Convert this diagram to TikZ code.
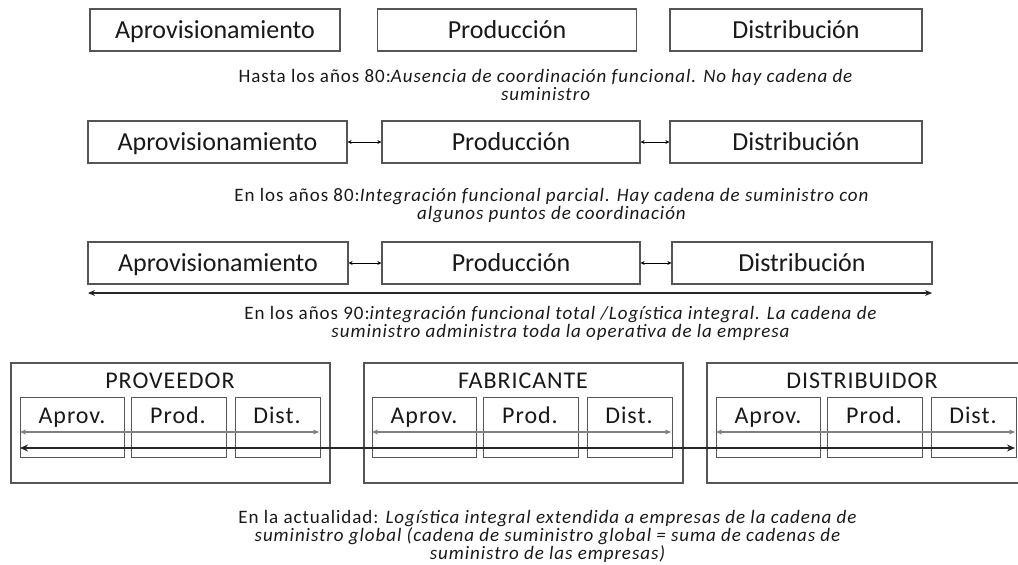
\documentclass[tikz,border=0pt]{standalone}
\usepackage{fontspec}
\setmainfont{Carlito}
\newfontfamily\wide[LetterSpace=5]{Carlito}
\newfontfamily\semiwide[LetterSpace=4]{Carlito}
\usepackage{tikz}
\usetikzlibrary{arrows.meta}
\definecolor{boxgray}{RGB}{85,85,85}
\definecolor{txtgray}{RGB}{25,25,25}
\newcommand*{\epoca}[2]{#1\textit{#2}}
\newcommand*{\tightlines}{\lineskiplimit=-100pt\relax\lineskip=0pt\relax}

\begin{document}
\begin{tikzpicture}[x=1pt, y=-1pt,
    area/.style={draw=boxgray, line width=1.2pt, minimum height=42pt,
      inner sep=0pt, text height=17pt, text depth=0pt,
      font=\fontsize{26}{30}\selectfont, text=txtgray},
    caption/.style={align=center, anchor=north, inner sep=0pt,
      font=\wide\fontsize{19}{18}\selectfont\tightlines, text=txtgray},
    firma/.style={draw=boxgray, line width=1.2pt, inner sep=0pt},
    sub/.style={draw=boxgray, line width=1pt},
    label/.style={inner sep=0pt, text height=15pt, text depth=0pt,
      font=\semiwide\fontsize{24}{26}\selectfont, text=txtgray},
    link/.style={{Stealth[length=4pt,width=4pt]}-{Stealth[length=4pt,width=4pt]}, line width=0.8pt, black}]
  \useasboundingbox (0,0) rectangle (1018,565);

  % hasta los 80
  \node [area, minimum width=250pt] (a1) at (215,30) {Aprovisionamiento};
  \node [area, minimum width=259pt] (p1) at (507,30) {Producción};
  \node [area, minimum width=252pt] (d1) at (796,30) {Distribución};
  \node [caption] (t1) at (546,69)
    {\epoca{Hasta los años 80:}{Ausencia de coordinación funcional. No hay cadena de}\\ \textit{suministro}};

  % años 80
  \node [area, minimum width=259pt] (a2) at (217.5,142) {Aprovisionamiento};
  \node [area, minimum width=258pt] (p2) at (511,142) {Producción};
  \node [area, minimum width=252pt] (d2) at (796,142) {Distribución};
  \draw [link] (a2) -- (p2);
  \draw [link] (p2) -- (d2);
  \node [caption] (t2) at (552,188)
    {\epoca{En los años 80:}{Integración funcional parcial. Hay cadena de suministro con}\\ \textit{algunos puntos de coordinación}};

  % años 90
  \node [area, minimum width=260pt] (a3) at (218,263) {Aprovisionamiento};
  \node [area, minimum width=258pt] (p3) at (511,263) {Producción};
  \node [area, minimum width=260pt] (d3) at (802,263) {Distribución};
  \draw [link] (a3) -- (p3);
  \draw [link] (p3) -- (d3);
  \coordinate (l3) at (88,293);
  \coordinate (r3) at (932,293);
  \draw [line width=2pt, {Stealth[length=7pt,width=6pt]}-{Stealth[length=7pt,width=6pt]}, black!85] (l3) -- (r3);
  \node [caption] (t3) at (561,306)
    {\epoca{En los años 90:}{integración funcional total /Logística integral. La cadena de}\\ \textit{suministro administra toda la operativa de la empresa}};

  % actualidad
  \draw [firma] (11,363) rectangle (330,483);
  \draw [firma] (364,363) rectangle (683,483);
  \draw [firma] (707,363) rectangle (1030,483);
  \node [label] (prov) at (170,380.5) {PROVEEDOR};
  \node [label] (fab) at (523,380.5) {FABRICANTE};
  \node [label] (dist) at (862,380.5) {DISTRIBUIDOR};

  \foreach \n/\x in {prov/20, fab/372, dist/716}
  {
    \draw [sub] (\x,397) rectangle ++(104,60);
    \draw [sub] (\x+111,397) rectangle ++(95,60);
    \draw [sub] (\x+215,397) rectangle ++(85,60);
    \node [label] (\n a) at (\x+52,415.5) {Aprov.};
    \node [label] (\n p) at (\x+158,415.5) {Prod.};
    \node [label] (\n d) at (\x+257,415.5) {Dist.};
    \coordinate (\n l) at (\x,432);
    \coordinate (\n r) at (\x+299,432);
    \draw [{Stealth[length=6pt,width=5pt]}-{Stealth[length=6pt,width=5pt]}, line width=1.4pt, gray] (\n l) -- (\n r);
  }

  \coordinate (gl) at (20,448);
  \coordinate (gr) at (1015,448);
  \draw [{Stealth[length=8pt,width=7pt]}-{Stealth[length=8pt,width=7pt]}, line width=2.4pt, black!85] (gl) -- (gr);

  \node [caption] (t4) at (548,510)
    {\epoca{En la actualidad:}{ Logística integral extendida a empresas de la cadena de}\\
     \textit{suministro global (cadena de suministro global = suma de cadenas de}\\
     \textit{suministro de las empresas)}};
\end{tikzpicture}
\end{document}
